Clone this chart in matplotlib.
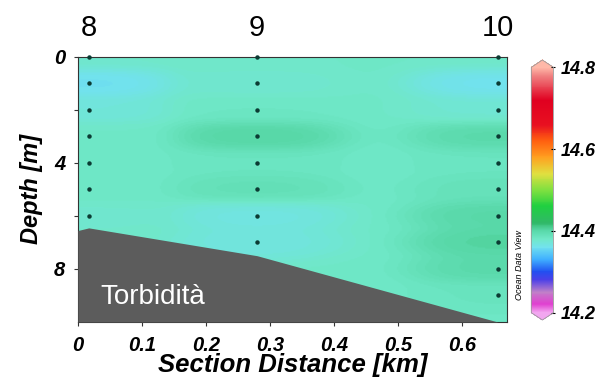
import numpy as np
import matplotlib
matplotlib.use("Agg")
import matplotlib.pyplot as plt
from matplotlib.colors import LinearSegmentedColormap, Normalize

plt.rcParams["font.family"] = ["Liberation Sans", "DejaVu Sans"]

# Stations along the section
station_names = ["8", "9", "10"]
station_dist = [0.017, 0.28, 0.656]  # km

# Sampled depths (m) and values at each station
depths_8 = [0, 1, 2, 3, 4, 5, 6]
values_8 = [14.378, 14.356, 14.370, 14.381, 14.383, 14.382, 14.377]
depths_9 = [0, 1, 2, 3, 4, 5, 6, 7]
values_9 = [14.380, 14.376, 14.383, 14.404, 14.385, 14.392, 14.366, 14.368]
depths_10 = [0, 1, 2, 3, 4, 5, 6, 7, 8, 9]
values_10 = [14.380, 14.358, 14.374, 14.400, 14.385, 14.390, 14.402, 14.405, 14.400, 14.386]

# Bottom topography
bottom_dist = [0.0, 0.017, 0.28, 0.656, 0.67]
bottom_depth = [6.55, 6.45, 7.5, 10.0, 10.0]

# Colour scale
vmin, vmax = 14.2, 14.8
cbar_ticks = [14.2, 14.4, 14.6, 14.8]
palette_vals = [14.20, 14.22, 14.25, 14.28, 14.30, 14.33, 14.36, 14.38, 14.40,
                14.42, 14.46, 14.50, 14.54, 14.58, 14.62, 14.66, 14.72, 14.78, 14.80]
palette_cols = ["#f2a6f0", "#e040d0", "#c080c8", "#4a40e8", "#2050f0", "#40b0ff",
                "#72e2ee", "#70e8c8", "#58d8a8", "#30b868", "#20d040", "#80e040",
                "#e0e040", "#ffa020", "#ff6010", "#e81020", "#e00020", "#f08080",
                "#ffb8a8"]
odv = LinearSegmentedColormap.from_list(
    "odv", [((v - vmin) / (vmax - vmin), c) for v, c in zip(palette_vals, palette_cols)])

# Collect samples
sx, sz, sv = [], [], []
for d, dep, val in zip(station_dist, [depths_8, depths_9, depths_10],
                       [values_8, values_9, values_10]):
    sx += [d] * len(dep)
    sz += dep
    sv += val
sx, sz, sv = np.array(sx), np.array(sz), np.array(sv)

# Weighted-average gridding with a background value
xmax, zmax = 0.67, 10.0
gx = np.linspace(0, xmax, 335)
gz = np.linspace(0, zmax, 250)
GX, GZ = np.meshgrid(gx, gz)
Lx, Lz = 0.085, 0.46
w = np.exp(-((GX[..., None] - sx) / Lx) ** 2 - ((GZ[..., None] - sz) / Lz) ** 2)
w0 = 0.12
field = (np.sum(w * sv, axis=-1) + w0 * 14.381) / (np.sum(w, axis=-1) + w0)

fig = plt.figure(figsize=(5.99, 3.87), dpi=100)
ax = fig.add_axes([0.130, 0.168, 0.716, 0.685])
norm = Normalize(vmin, vmax)
im = ax.imshow(field, extent=[0, xmax, zmax, 0], origin="upper", cmap=odv,
               norm=norm, aspect="auto", interpolation="bilinear")

# Sea floor
ax.fill_between(bottom_dist, bottom_depth, zmax, color="#5c5c5c", zorder=3, lw=0)
ax.text(0.035, 9.05, "Torbidità", color="white", fontsize=20, ha="left",
        va="center", zorder=4)

# Sample positions
ax.plot(sx, sz, "o", ms=2.2, color="#0b3b33", zorder=5, clip_on=False)

ax.set_xlim(0, xmax)
ax.set_ylim(zmax, 0)
ax.set_xticks(np.arange(0, 0.61, 0.1))
ax.set_xticklabels(["0", "0.1", "0.2", "0.3", "0.4", "0.5", "0.6"])
ax.set_yticks([0, 2, 4, 6, 8])
ax.set_yticklabels(["0", "", "4", "", "8"])
ax.tick_params(length=3, width=0.8, color="#333333", labelsize=14.5)
ax.tick_params(axis="x", pad=7)
ax.tick_params(axis="y", pad=6)
for lab in ax.get_xticklabels() + ax.get_yticklabels():
    lab.set_fontweight("bold")
    lab.set_fontstyle("italic")
for s in ax.spines.values():
    s.set_linewidth(0.8)
    s.set_color("#333333")
ax.set_xlabel("Section Distance [km]", fontsize=18.5, fontweight="bold",
              style="italic", labelpad=-1)
ax.set_ylabel("Depth [m]", fontsize=17, fontweight="bold", style="italic",
              labelpad=8)

# Station names above the section
for name, d in zip(station_names, station_dist):
    ax.annotate(name, xy=(d, 1.0), xycoords=("data", "axes fraction"),
                xytext=(0, 21), textcoords="offset points", ha="center",
                va="center", fontsize=21)

# Colour bar
cax = fig.add_axes([0.887, 0.173, 0.037, 0.672])
cb = fig.colorbar(im, cax=cax, extend="both", extendfrac=0.03, ticks=cbar_ticks)
cb.outline.set_linewidth(0.6)
cb.outline.set_edgecolor("#999999")
cax.tick_params(length=3, width=0.8, direction="inout", labelsize=13, pad=4)
for lab in cax.get_yticklabels():
    lab.set_fontweight("bold")
    lab.set_fontstyle("italic")

fig.text(0.867, 0.315, "Ocean Data View", rotation=90, fontsize=6.5,
         style="italic", ha="center", va="center")

fig.savefig("out.png", dpi=100)
